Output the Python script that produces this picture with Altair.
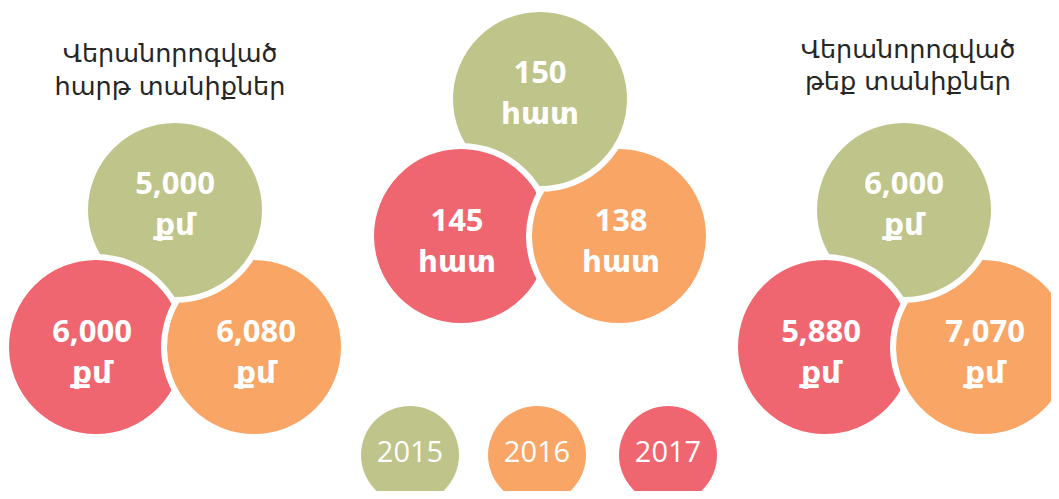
import math
import altair as alt
import pandas as pd

# ---------------- data ----------------
years = ["2015", "2016", "2017"]
year_colors = ["#BFC48A", "#F8A566", "#F06670"]
flat_roof_m2 = [5000, 6080, 6000]      # renovated flat roofs, sq.m
roof_count = [150, 138, 145]           # renovated roofs, pieces
sloped_roof_m2 = [6000, 7070, 5880]    # renovated sloped roofs, sq.m
group_values = [flat_roof_m2, roof_count, sloped_roof_m2]
group_units = ["քմ", "հատ", "քմ"]
title_line1 = ["Վերանորոգված", "", "Վերանորոգված"]
title_line2 = ["հարթ տանիքներ", "", "թեք տանիքներ"]

# ---------------- layout (page pixels) ----------------
X0, X1, Y0, Y1 = 8, 1051, 8, 491
group_cx = [175, 540, 904]
group_top_cy = [210, 99, 210]
circle_off = {"2015": (0, 0), "2016": (79, 137), "2017": (-79, 137)}
label_off = {"2015": (0, -5), "2016": (2, 6), "2017": (-4, 6)}
draw_rank = {"2016": 0, "2015": 1, "2017": 2}
R = 90
SW = 6
title_x = [170, None, 908]
title_base = [(62, 95), None, (58, 90)]
legend_x = [410, 537, 668]
legend_y = 455
legend_r = 49
LINE = 41

rows = []
for gi, vals in enumerate(group_values):
    for yi, yr in enumerate(years):
        ox, oy = circle_off[yr]
        lx, ly = label_off[yr]
        cx, cy = group_cx[gi] + ox, group_top_cy[gi] + oy
        rows.append(dict(group=gi, year=yr, rank=draw_rank[yr] + 3 * gi,
                         value=f"{vals[yi]:,}", unit=group_units[gi],
                         x=cx, y=cy,
                         lx=cx + lx, ly1=cy + ly - LINE / 2, ly2=cy + ly + LINE / 2))
circles = pd.DataFrame(rows).sort_values("rank")

titles = []
for gi in range(3):
    if title_line1[gi]:
        titles.append(dict(text=title_line1[gi], x=title_x[gi], y=title_base[gi][0]))
        titles.append(dict(text=title_line2[gi], x=title_x[gi], y=title_base[gi][1]))
titles = pd.DataFrame(titles)

legend = pd.DataFrame(dict(year=years, x=legend_x, y=[legend_y] * 3))

xsc = alt.Scale(domain=[X0, X1], nice=False, zero=False)
ysc = alt.Scale(domain=[Y0, Y1], nice=False, zero=False, reverse=True)
xs = alt.X("x:Q", scale=xsc, axis=None)
ys = alt.Y("y:Q", scale=ysc, axis=None)
col = alt.Color("year:N", scale=alt.Scale(domain=years, range=year_colors), legend=None)

base = alt.Chart(circles)

disc = base.mark_circle(opacity=1, stroke="white", strokeWidth=SW, size=(2 * R) ** 2).encode(
    x=xs, y=ys, color=col, order=alt.Order("rank:Q"))

# orange (2016) sits over red (2017): redraw that part of the 2016 disc
fix = base.transform_filter(alt.datum.year == "2016")
t1, t2 = math.radians(237), math.radians(301)
wedge = fix.mark_arc(stroke=None).encode(
    x=xs, y=ys, color=col,
    theta=alt.value(t1), theta2=alt.value(t2),
    radius=alt.value(R), radius2=alt.value(0))
ring = fix.mark_arc(color="white", stroke=None).encode(
    x=xs, y=ys,
    theta=alt.value(t1), theta2=alt.value(t2),
    radius=alt.value(R + SW / 2), radius2=alt.value(R - SW / 2))

FONT = "Open Sans, DejaVu Sans"
val_txt = base.mark_text(font=FONT, fontSize=31, fontWeight="bold", color="white",
                         baseline="middle", align="center").encode(
    x=alt.X("lx:Q", scale=xsc, axis=None),
    y=alt.Y("ly1:Q", scale=ysc, axis=None),
    text="value:N")
unit_txt = base.mark_text(font=FONT, fontSize=31, fontWeight="bold", color="white",
                          baseline="middle", align="center").encode(
    x=alt.X("lx:Q", scale=xsc, axis=None),
    y=alt.Y("ly2:Q", scale=ysc, axis=None),
    text="unit:N")

title_txt = alt.Chart(titles).mark_text(font="DejaVu Sans", fontSize=25.5, color="#262626",
                                        baseline="alphabetic", align="center").encode(
    x=xs, y=ys, text="text:N")

leg_c = alt.Chart(legend).mark_circle(opacity=1, size=(2 * legend_r) ** 2).encode(
    x=xs, y=ys, color=col)
leg_t = alt.Chart(legend).mark_text(font=FONT, fontSize=29, color="white",
                                    baseline="middle", align="center", dy=-2).encode(
    x=xs, y=ys, text="year:N")

chart = alt.layer(disc, wedge, ring, val_txt, unit_txt, title_txt, leg_c, leg_t).properties(
    width=X1 - X0, height=Y1 - Y0, padding=0, autosize="none"
).configure_view(stroke=None)

chart.save("out.html", embed_options={"renderer": "svg", "actions": False})
